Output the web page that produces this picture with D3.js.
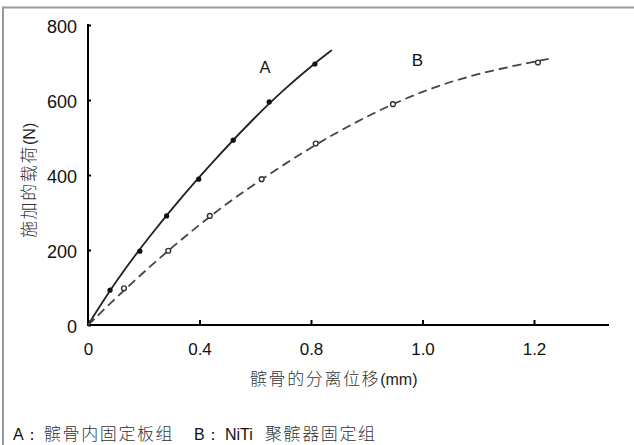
<!DOCTYPE html>
<html><head><meta charset="utf-8">
<script src="https://cdn.jsdelivr.net/npm/d3@7"></script>
<style>
body{margin:0;background:#fff;}
svg{display:block;}
text{font-family:"Liberation Sans",Arial,sans-serif;fill:#111;}
.cn{font-family:"Noto Sans CJK SC",sans-serif;font-weight:300;fill:#333;}
.lat{font-family:"Liberation Sans",Arial,sans-serif;fill:#111;}
.nar{font-family:"Liberation Sans Narrow","Liberation Sans",Arial,sans-serif;fill:#222;}
</style></head>
<body>
<script>
// x values on an evenly spaced axis scale (tick positions 0,0.4,0.8,1.2,1.6 printed as 0,0.4,0.8,1.0,1.2)
const xTickValues = [0, 0.4, 0.8, 1.2, 1.6];
const xTickLabels = ["0", "0.4", "0.8", "1.0", "1.2"];
const yTickValues = [0, 200, 400, 600, 800];

const seriesA_x = [0.079, 0.186, 0.282, 0.397, 0.521, 0.650, 0.814];
const seriesA_y = [93, 197, 291, 389, 493, 595, 696];
const seriesB_x = [0.129, 0.288, 0.437, 0.623, 0.817, 1.094, 1.614];
const seriesB_y = [98, 198, 291, 389, 484, 589, 700];
// fitted curves (start at origin, extend a little past last point)
const curveA_x = [0, 0.10, 0.22, 0.34, 0.46, 0.58, 0.70, 0.82, 0.875];
const curveA_y = [0, 118, 236, 345, 445, 540, 627, 702, 733];
const curveB_x = [0, 0.15, 0.30, 0.45, 0.60, 0.80, 1.00, 1.20, 1.40, 1.653];
const curveB_y = [0, 108, 207, 298, 378, 475, 558, 625, 672, 710];

const xTitleCn = "髌骨的分离位移";
const xTitleUnit = "(mm)";
const yTitleCn = "施加的载荷";
const yTitleUnit = "(N)";
const legendParts = [
  {t: "A：", cls: "lat", x: 13},
  {t: "髌骨内固定板组", cls: "cn", x: 44},
  {t: "B：", cls: "lat", x: 194},
  {t: "NiTi", cls: "lat", x: 225},
  {t: "聚髌器固定组", cls: "cn", x: 265}
];

const W = 634, H = 445;
const svg = d3.select("body").append("svg").attr("width", W).attr("height", H);

// frame (top + left only)
svg.append("line").attr("x1", 2).attr("x2", W).attr("y1", 7.5).attr("y2", 7.5).attr("stroke", "#999").attr("stroke-width", 2);
svg.append("line").attr("x1", 3).attr("x2", 3).attr("y1", 7).attr("y2", H).attr("stroke", "#999").attr("stroke-width", 2);

const x = d3.scaleLinear().domain([0, 1.6]).range([88, 534]);
const y = d3.scaleLinear().domain([0, 800]).range([325, 25]);

// axes
const xAxis = d3.axisBottom(x).tickValues(xTickValues).tickFormat((d, i) => xTickLabels[i]).tickSize(-5).tickSizeOuter(0);
const gx = svg.append("g").attr("transform", "translate(0,325)").call(xAxis);
gx.select(".domain").remove();
gx.append("line").attr("x1", 87).attr("x2", 609).attr("y1", 0).attr("y2", 0).attr("stroke", "#000").attr("stroke-width", 2);
gx.selectAll(".tick line").attr("stroke", "#000").attr("stroke-width", 2);
gx.selectAll(".tick text").attr("y", 29.5).attr("dy", null).attr("fill", "#111")
  .style("font-size", "17px").style("font-family", "'Liberation Sans',Arial,sans-serif");

const yAxis = d3.axisLeft(y).tickValues(yTickValues).tickSize(-3).tickSizeOuter(0);
const gy = svg.append("g").attr("transform", "translate(88,0)").call(yAxis);
gy.select(".domain").remove();
gy.append("line").attr("x1", 0).attr("x2", 0).attr("y1", 24).attr("y2", 326).attr("stroke", "#000").attr("stroke-width", 2);
gy.selectAll(".tick line").attr("stroke", "#000").attr("stroke-width", 2);
gy.selectAll(".tick text").attr("x", -11).attr("dy", "0.42em").attr("fill", "#111").style("font-size", "18px")
  .style("font-family", "'Liberation Sans',Arial,sans-serif");

// curves
const lineGen = d3.line().x(d => x(d[0])).y(d => y(d[1])).curve(d3.curveBasis);
svg.append("path").datum(curveA_x.map((v, i) => [v, curveA_y[i]]))
  .attr("d", lineGen).attr("fill", "none").attr("stroke", "#222").attr("stroke-width", 1.8);
svg.append("path").datum(curveB_x.map((v, i) => [v, curveB_y[i]]))
  .attr("d", lineGen).attr("fill", "none").attr("stroke", "#444").attr("stroke-width", 1.8)
  .attr("stroke-dasharray", "9,5");

// markers
svg.append("g").selectAll("circle").data(seriesA_x.map((v, i) => [v, seriesA_y[i]])).join("circle")
  .attr("cx", d => x(d[0])).attr("cy", d => y(d[1])).attr("r", 2.6).attr("fill", "#111");
svg.append("g").selectAll("circle").data(seriesB_x.map((v, i) => [v, seriesB_y[i]])).join("circle")
  .attr("cx", d => x(d[0])).attr("cy", d => y(d[1])).attr("r", 2.4).attr("fill", "#fff").attr("stroke", "#333").attr("stroke-width", 1.4);

// series labels
svg.append("text").attr("x", 265).attr("y", 73).attr("text-anchor", "middle").style("font-size", "16.5px").text("A");
svg.append("text").attr("x", 417.5).attr("y", 66).attr("text-anchor", "middle").style("font-size", "17px").text("B");

// x axis title
const xt = svg.append("text").attr("x", 250).attr("y", 385);
xt.append("tspan").attr("class", "cn").style("font-size", "17px").style("letter-spacing", "1.6px").text(xTitleCn);
xt.append("tspan").attr("class", "nar").style("font-size", "16px").text(xTitleUnit);

// y axis title
const yt = svg.append("text").attr("transform", "translate(35,238) rotate(-90)");
yt.append("tspan").attr("class", "cn").style("font-size", "17px").style("letter-spacing", "1.6px").text(yTitleCn);
yt.append("tspan").attr("class", "nar").style("font-size", "16px").text(yTitleUnit);

// legend caption
svg.append("g").selectAll("text").data(legendParts).join("text")
  .attr("class", d => d.cls).attr("x", d => d.x).attr("y", 440)
  .style("font-size", d => d.cls === "cn" ? "17px" : "16px")
  .style("letter-spacing", d => d.cls === "cn" ? "1.6px" : null)
  .text(d => d.t);
</script>
</body></html>
